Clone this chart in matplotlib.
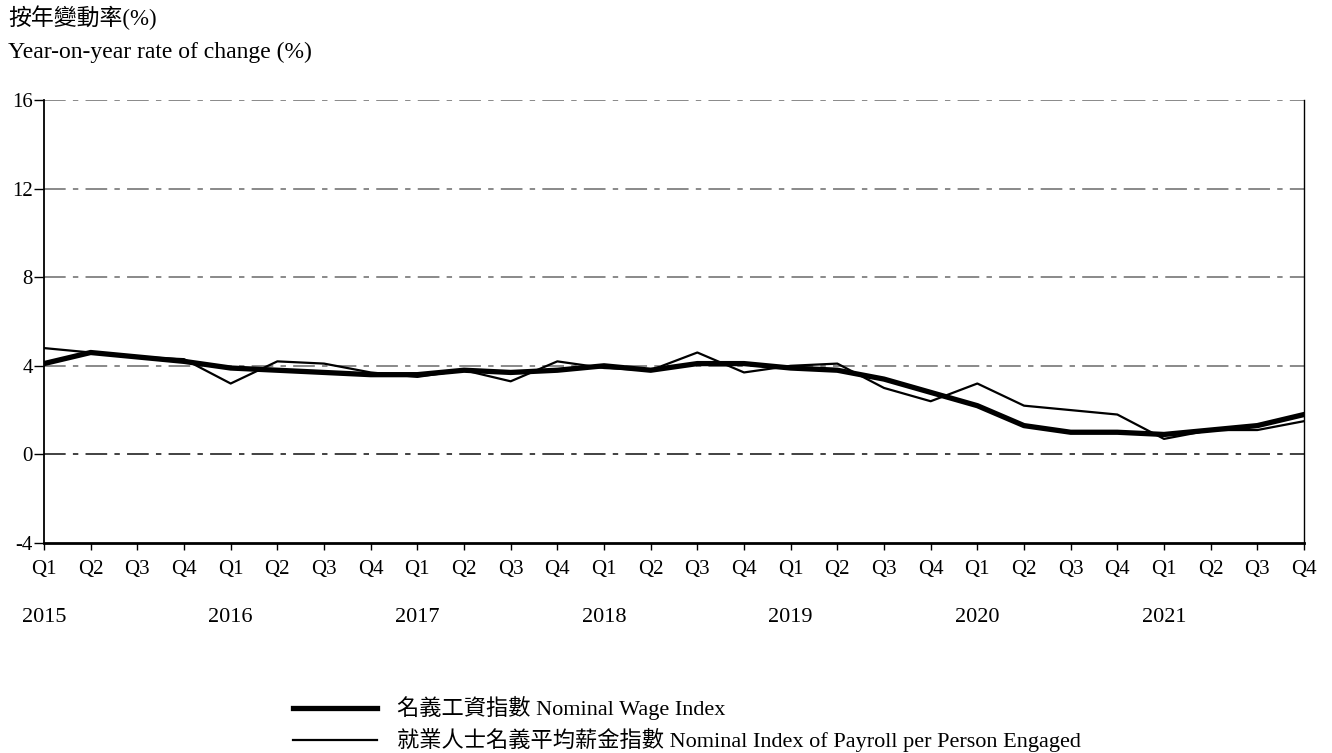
import matplotlib
matplotlib.use('Agg')
import matplotlib.pyplot as plt
from matplotlib.lines import Line2D
import matplotlib.transforms as mtransforms

plt.rcParams['font.family'] = ['Liberation Serif', 'Noto Sans CJK TC']

quarters = ['Q1', 'Q2', 'Q3', 'Q4'] * 7
years = ['2015', '2016', '2017', '2018', '2019', '2020', '2021']

# year-on-year % change
wage_index = [4.1, 4.6, 4.4, 4.2, 3.9, 3.8, 3.7, 3.6,
              3.6, 3.8, 3.7, 3.8, 4.0, 3.8, 4.1, 4.1,
              3.9, 3.8, 3.4, 2.8, 2.2, 1.3, 1.0, 1.0,
              0.9, 1.1, 1.3, 1.8]
payroll_index = [4.8, 4.6, 4.4, 4.3, 3.2, 4.2, 4.1, 3.7,
                 3.5, 3.8, 3.3, 4.2, 3.9, 3.8, 4.6, 3.7,
                 4.0, 4.1, 3.0, 2.4, 3.2, 2.2, 2.0, 1.8,
                 0.7, 1.1, 1.1, 1.5]

x = list(range(len(quarters)))

fig = plt.figure(figsize=(13.32, 7.53), dpi=100)
ax = fig.add_axes([44 / 1332, 1 - 543 / 753, 1260 / 1332, 443 / 753])

for g in [4, 8, 12, 16]:
    ax.axhline(g, color='#808080', lw=1.3, linestyle=(0, (12, 4, 3, 4)), zorder=1)
ax.axhline(0, color='#333333', lw=1.3, linestyle=(0, (12, 4, 3, 4)), zorder=1)

ax.plot(x, wage_index, color='black', lw=3.8, solid_joinstyle='round', zorder=3)
ax.plot(x, payroll_index, color='black', lw=1.6, zorder=4)

ax.set_xlim(0, len(x) - 1)
ax.set_ylim(-4, 16)
ax.set_yticks([-4, 0, 4, 8, 12, 16])
ax.set_yticklabels(['-4', '0', '4', '8', '12', '16'])
ax.set_xticks(x)
ax.set_xticklabels(quarters)
ax.tick_params(axis='x', length=5, width=1, pad=7, labelsize=15)
ax.tick_params(axis='y', length=7, width=1, pad=1, labelsize=15)

ax.spines['top'].set_visible(False)
ax.spines['left'].set_linewidth(1.3)
ax.spines['bottom'].set_linewidth(2)
ax.spines['right'].set_linewidth(1)

trans = mtransforms.blended_transform_factory(ax.transData, fig.transFigure)
for i, yr in enumerate(years):
    ax.text(i * 4, 1 - 617 / 753, yr, transform=trans, ha='center', va='center',
            fontsize=16, clip_on=False)

fig.text(8 / 1332, 1 - 18 / 753, '按年變動率(%)', fontsize=16.5, va='center', ha='left')
fig.text(8 / 1332, 1 - 52 / 753, 'Year-on-year rate of change (%)', fontsize=17,
         va='center', ha='left')

# legend
fig.add_artist(Line2D([293 / 1332, 377 / 1332], [1 - 708 / 753] * 2, color='black', lw=3.8))
fig.add_artist(Line2D([293 / 1332, 377 / 1332], [1 - 740 / 753] * 2, color='black', lw=1.6))
fig.text(397 / 1332, 1 - 708 / 753, '名義工資指數 Nominal Wage Index', fontsize=16,
         va='center', ha='left')
fig.text(397 / 1332, 1 - 740 / 753, '就業人士名義平均薪金指數 Nominal Index of Payroll per Person Engaged',
         fontsize=16, va='center', ha='left')

fig.savefig('out.png', dpi=100)
